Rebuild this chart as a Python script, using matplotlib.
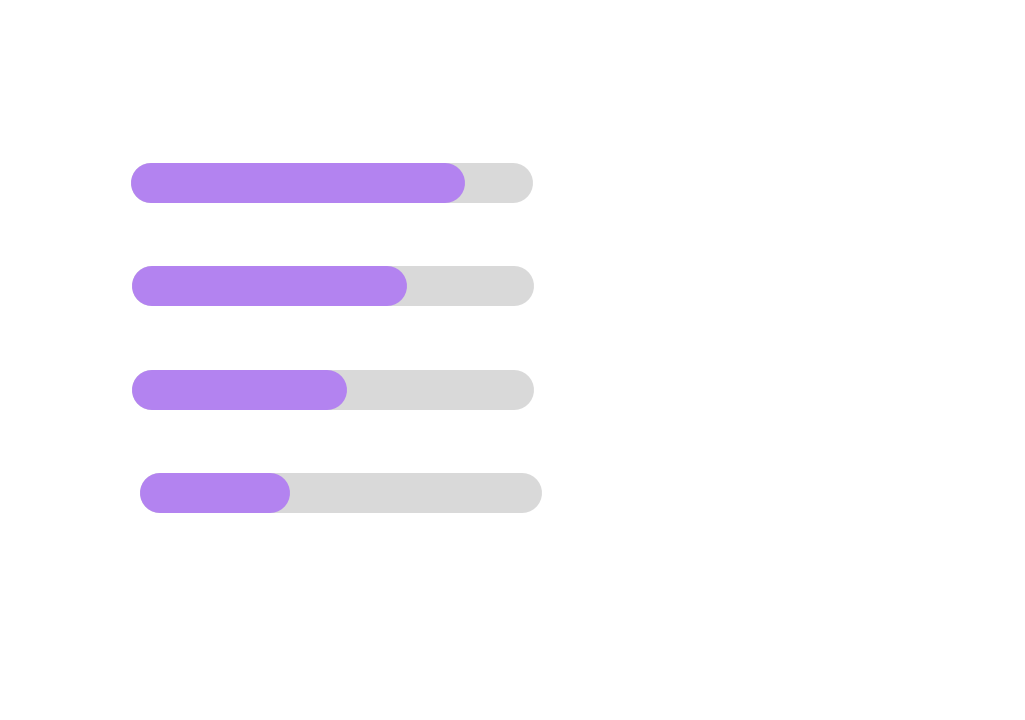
import matplotlib
matplotlib.use("Agg")
import matplotlib.pyplot as plt

# ----- datos: porcentaje de avance por fila -----
values = [83, 68.5, 53.5, 37.3]

# posicion de cada barra (px) y tamano comun
track_left = [131, 132, 132, 140]
track_top = [163, 266, 370, 473]
track_width = 402
track_height = 40

track_color = "#D9D9D9"
fill_color = "#B383F0"

DPI = 100
fig = plt.figure(figsize=(10.25, 7.2), dpi=DPI)
ax = fig.add_axes([0, 0, 1, 1])
ax.set_xlim(0, 1025)
ax.set_ylim(720, 0)
ax.axis("off")

# barras con extremos redondeados: linea gruesa con capstyle round
r = track_height / 2
lw = track_height * 72 / DPI
for v, x0, y0 in zip(values, track_left, track_top):
    yc = y0 + r
    ax.plot([x0 + r, x0 + track_width - r], [yc, yc], color=track_color,
            lw=lw, solid_capstyle="round")
    fill_w = track_width * v / 100
    ax.plot([x0 + r, x0 + fill_w - r], [yc, yc], color=fill_color,
            lw=lw, solid_capstyle="round")

fig.savefig("out.png", dpi=DPI, facecolor="white")
